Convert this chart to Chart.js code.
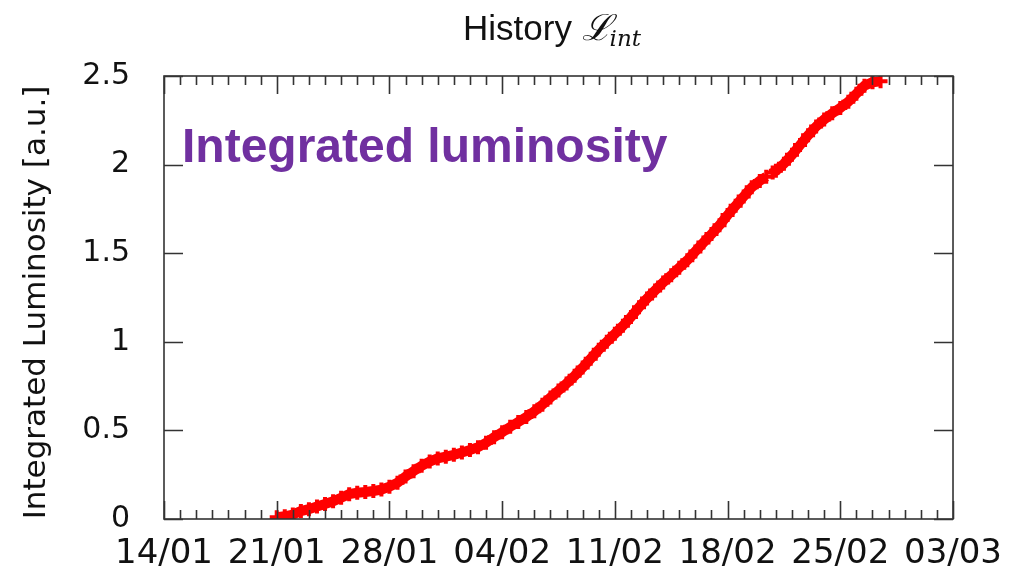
<!DOCTYPE html>
<html>
<head>
<meta charset="utf-8">
<script src="https://cdn.jsdelivr.net/npm/chart.js@4.4.1/dist/chart.umd.min.js"></script>
<style>
  html, body { margin: 0; padding: 0; background: #fff; }
  #wrap { width: 1017px; height: 571px; position: relative; }
</style>
</head>
<body>
<div id="wrap"><canvas id="c" width="1017" height="571"></canvas></div>
<script>
// Days counted from 14/01
const days = [7.0, 7.5, 8.0, 8.5, 9.0, 9.5, 10.0, 10.5, 11.0, 11.5, 12.0, 12.5, 13.0, 13.5, 14.0, 14.5, 15.0, 15.5, 16.0, 16.5,
  17.0, 17.5, 18.0, 18.5, 19.0, 19.5, 20.0, 20.5, 21.0, 21.5, 22.0, 22.5, 23.0, 23.5, 24.0, 24.5, 25.0, 25.5, 26.0, 26.5,
  27.0, 27.5, 28.0, 28.5, 29.0, 29.5, 30.0, 30.5, 31.0, 31.5, 32.0, 32.5, 33.0, 33.5, 34.0, 34.5, 35.0, 35.5, 36.0, 36.5,
  37.0, 37.4, 37.6, 37.8, 38.0, 38.5, 39.0, 39.5, 40.0, 40.5, 41.0, 41.5, 42.0, 42.5, 43.0, 43.5, 44.0, 44.5];
const lumi = [0.010, 0.015, 0.025, 0.045, 0.055, 0.070, 0.085, 0.100, 0.120, 0.140, 0.148, 0.152, 0.158, 0.166, 0.182, 0.205, 0.240, 0.270, 0.300, 0.324,
  0.342, 0.352, 0.362, 0.375, 0.389, 0.405, 0.430, 0.462, 0.490, 0.520, 0.548, 0.575, 0.608, 0.645, 0.685, 0.725, 0.765, 0.808, 0.855, 0.905,
  0.955, 1.000, 1.045, 1.090, 1.140, 1.195, 1.245, 1.290, 1.335, 1.375, 1.418, 1.460, 1.510, 1.560, 1.608, 1.658, 1.715, 1.768, 1.820, 1.872,
  1.908, 1.932, null, 1.955, 1.965, 2.005, 2.055, 2.110, 2.165, 2.215, 2.255, 2.290, 2.320, 2.355, 2.400, 2.445, 2.465, 2.470];
const xTickDays = [0, 7, 14, 21, 28, 35, 42, 49];
const xTickLabels = ['14/01', '21/01', '28/01', '04/02', '11/02', '18/02', '25/02', '03/03'];
const yTicks = [0, 0.5, 1, 1.5, 2, 2.5];
const yTickLabels = ['0', '0.5', '1', '1.5', '2', '2.5'];
const titleMain = 'History ';
const titleSymbol = '\u2112';
const titleSub = 'int';
const yAxisTitle = 'Integrated Luminosity [a.u.]';
const annotation = 'Integrated luminosity';

const points = days.map((d, i) => ({ x: d, y: lumi[i] }));

const frame = {
  id: 'frame',
  afterDraw(chart) {
    const ctx = chart.ctx;
    const a = chart.chartArea;
    const xs = chart.scales.x, ys = chart.scales.y;
    ctx.save();
    ctx.strokeStyle = '#333';
    ctx.lineWidth = 1.6;
    ctx.strokeRect(a.left, a.top, a.right - a.left, a.bottom - a.top);
    ctx.beginPath();
    for (let d = xs.min; d <= xs.max; d++) {
      const px = Math.round(xs.getPixelForValue(d)) + 0.5;
      const len = (d % 7 === 0) ? 18 : 9;
      ctx.moveTo(px, a.bottom); ctx.lineTo(px, a.bottom - len);
      ctx.moveTo(px, a.top); ctx.lineTo(px, a.top + len);
    }
    yTicks.forEach(v => {
      const py = Math.round(ys.getPixelForValue(v)) + 0.5;
      ctx.moveTo(a.left, py); ctx.lineTo(a.left + 19, py);
      ctx.moveTo(a.right, py); ctx.lineTo(a.right - 19, py);
    });
    ctx.stroke();

    // Title
    ctx.fillStyle = '#111';
    ctx.textBaseline = 'alphabetic';
    ctx.font = '35px "Liberation Sans"';
    const w1 = ctx.measureText(titleMain).width;
    ctx.font = 'italic 36px "DejaVu Serif"';
    const w2 = ctx.measureText(titleSymbol).width;
    let tx = 463;
    const base = 40;
    ctx.textAlign = 'left';
    ctx.font = '35px "Liberation Sans"';
    ctx.fillText(titleMain, tx, base);
    tx = Math.max(tx + w1, 578);
    ctx.font = 'italic 36px "DejaVu Serif"';
    ctx.fillText(titleSymbol, tx, base);
    tx += w2 - 2;
    ctx.font = 'italic 23px "DejaVu Serif"';
    ctx.fillText(titleSub, tx, base + 6);

    // Y axis title
    ctx.save();
    ctx.translate(37, (a.top + a.bottom) / 2 + 5);
    ctx.rotate(-Math.PI / 2);
    ctx.textAlign = 'center';
    ctx.textBaseline = 'middle';
    ctx.font = '31px "DejaVu Sans"';
    ctx.fillStyle = '#111';
    ctx.fillText(yAxisTitle, 0, 0);
    ctx.restore();

    // Annotation
    ctx.font = 'bold 48px "Liberation Sans"';
    ctx.fillStyle = '#7030A0';
    ctx.textAlign = 'left';
    ctx.textBaseline = 'alphabetic';
    ctx.fillText(annotation, 182, 162);
    ctx.restore();
  }
};

new Chart(document.getElementById('c'), {
  type: 'line',
  data: {
    datasets: [{
      data: points,
      borderColor: '#ff0000',
      backgroundColor: '#ff0000',
      borderWidth: 10,
      pointStyle: 'cross',
      pointRadius: 7,
      pointBorderWidth: 4,
      pointHoverRadius: 7,
      spanGaps: false,
      tension: 0
    }]
  },
  options: {
    responsive: false,
    animation: false,
    events: [],
    layout: { padding: { top: 76, right: 62, left: 0, bottom: 0 } },
    plugins: { legend: { display: false }, tooltip: { enabled: false }, title: { display: false } },
    scales: {
      x: {
        type: 'linear',
        min: 0, max: 49,
        afterFit: s => { s.height = 50; },
        afterBuildTicks: s => { s.ticks = xTickDays.map(v => ({ value: v })); },
        grid: { display: false, drawTicks: false },
        border: { display: false },
        ticks: {
          autoSkip: false, maxRotation: 0, padding: 15,
          color: '#111',
          font: { family: 'DejaVu Sans', size: 34 },
          callback: v => { const i = xTickDays.indexOf(v); return i >= 0 ? xTickLabels[i] : ''; }
        }
      },
      y: {
        type: 'linear',
        min: 0, max: 2.5,
        afterFit: s => { s.width = 164; },
        afterBuildTicks: s => { s.ticks = yTicks.map(v => ({ value: v })); },
        grid: { display: false, drawTicks: false },
        border: { display: false },
        ticks: {
          padding: 34,
          color: '#111',
          font: { family: 'DejaVu Sans', size: 30 },
          callback: v => { const i = yTicks.indexOf(v); return i >= 0 ? yTickLabels[i] : ''; }
        }
      }
    }
  },
  plugins: [frame]
});
</script>
</body>
</html>
